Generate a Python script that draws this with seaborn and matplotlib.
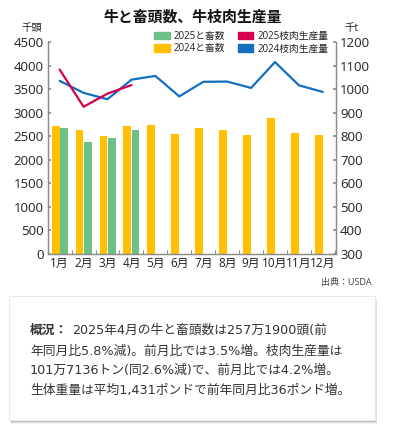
import pandas as pd
import matplotlib.pyplot as plt
import seaborn as sns
import numpy as np
from matplotlib.patches import Patch, FancyBboxPatch

# data
months = ['1月', '2月', '3月', '4月', '5月', '6月', '7月', '8月', '9月', '10月', '11月', '12月']
head_2024 = [2720, 2640, 2515, 2710, 2745, 2545, 2675, 2635, 2530, 2890, 2565, 2535]
head_2025 = [2665, 2375, 2460, 2625, np.nan, np.nan, np.nan, np.nan, np.nan, np.nan, np.nan, np.nan]
beef_2024 = [1035, 984, 957, 1040, 1056, 969, 1031, 1032, 1005, 1115, 1016, 988]
beef_2025 = [1083, 925, 981, 1017]

bar_df = pd.DataFrame({
    'month': months * 2,
    'year': ['2024'] * 12 + ['2025'] * 12,
    'head': head_2024 + head_2025,
})
line_df = pd.DataFrame({
    'pos': list(range(12)) + list(range(4)),
    'year': ['2024'] * 12 + ['2025'] * 4,
    'beef': beef_2024 + beef_2025,
})

sns.set_theme(style='white')
plt.rcParams['font.family'] = ['Open Sans', 'Noto Sans CJK JP', 'DejaVu Sans']

yellow = '#FFC000'
green = '#6CBF86'
red = '#D6004F'
blue = '#1170C0'
spine_col = '#8C8C8C'
txt_col = '#222222'

fig = plt.figure(figsize=(3.93, 4.33), dpi=100)
ax = fig.add_axes([0.1214, 0.4134, 0.7336, 0.4896])

sns.barplot(data=bar_df, x='month', y='head', hue='year', hue_order=['2024', '2025'],
            palette={'2024': yellow, '2025': green}, width=0.68, gap=0.03,
            saturation=1, linewidth=0, legend=False, ax=ax)
ax.set_ylim(0, 4500)
ax.set_yticks(range(0, 4501, 500))
ax.set_xlim(-0.45, 11.55)
ax.set_xlabel('')
ax.set_ylabel('')

ax2 = ax.twinx()
sns.lineplot(data=line_df, x='pos', y='beef', hue='year', hue_order=['2024', '2025'],
             palette={'2024': blue, '2025': red}, linewidth=1.6, sort=False,
             legend=False, ax=ax2)
ax2.set_ylim(300, 1200)
ax2.set_yticks(range(300, 1201, 100))
ax2.set_xlim(-0.45, 11.55)
ax2.set_xlabel('')
ax2.set_ylabel('')

for a in (ax, ax2):
    for s in ['left', 'right', 'bottom']:
        a.spines[s].set_color(spine_col)
        a.spines[s].set_linewidth(0.9)
    a.spines['top'].set_visible(False)

ax.set_xticks(range(12))
ax.set_xticklabels(months)
ax.set_xticks(np.arange(-0.5, 12, 1), minor=True)
ax.tick_params(axis='x', which='major', length=0, labelsize=8.5, labelcolor=txt_col, pad=2)
ax.tick_params(axis='x', which='minor', direction='in', length=3, color=spine_col, width=0.8, bottom=True)
ax.tick_params(axis='y', direction='in', length=2.5, color=spine_col, labelsize=9.5,
               labelcolor=txt_col, pad=3, left=True)
ax2.tick_params(axis='y', direction='in', length=2.5, color=spine_col, labelsize=9.5,
                labelcolor=txt_col, pad=3, right=True)

# legend
handles = [Patch(color=green, label='2025と畜数'), Patch(color=yellow, label='2024と畜数'),
           Patch(color=red, label='2025枝肉生産量'), Patch(color=blue, label='2024枝肉生産量')]
ax2.legend(handles=handles, ncol=2, loc='upper right', bbox_to_anchor=(0.99, 1.075),
           frameon=False, fontsize=7, handlelength=1.6, handleheight=0.75,
           handletextpad=0.4, columnspacing=1.3, labelspacing=0.15, borderpad=0,
           labelcolor=txt_col)

# titles and units
fig.text(0.49, 0.96, '牛と畜頭数、牛枝肉生産量', ha='center', va='center',
         fontsize=10.7, fontweight='bold', color='#111111')
fig.text(0.08, 0.935, '千頭', ha='center', va='center', fontsize=7.5, color=txt_col)
fig.text(0.895, 0.935, '千t', ha='center', va='center', fontsize=7.5, color=txt_col)
fig.text(0.945, 0.347, '出典：USDA', ha='right', va='center', fontsize=6.5, color='#444444')

# summary box with a soft shadow
for i, alpha in enumerate([0.05, 0.08, 0.12]):
    off = 3.5 - i
    fig.patches.append(FancyBboxPatch((9 / 393 + off * 0.6 / 393, 13 / 433 - off / 433),
                                      366 / 393, 124 / 433, boxstyle='square,pad=0',
                                      transform=fig.transFigure, facecolor='black',
                                      edgecolor='none', alpha=alpha, zorder=1))
fig.patches.append(FancyBboxPatch((9 / 393, 13 / 433), 366 / 393, 124 / 433,
                                  boxstyle='square,pad=0', transform=fig.transFigure,
                                  facecolor='white', edgecolor='#E6E6E6', linewidth=0.6, zorder=2))

body_col = '#333333'
body_font = ['DejaVu Sans', 'Noto Sans CJK JP']
fs = 9.2
fig.text(30 / 393, 1 - 330 / 433, '概況：', ha='left', va='center', fontsize=fs,
         fontweight='bold', color=body_col, family=['Noto Sans CJK JP'])
lines = ['2025年4月の牛と畜頭数は257万1900頭(前',
         '年同月比5.8%減)。前月比では3.5%増。枝肉生産量は',
         '101万7136トン(同2.6%減)で、前月比では4.2%増。',
         '生体重量は平均1,431ポンドで前年同月比36ポンド増。']
fig.text(72 / 393, 1 - 330 / 433, lines[0], ha='left', va='center', fontsize=fs,
         color=body_col, family=body_font)
for k, ln in enumerate(lines[1:]):
    fig.text(30 / 393, 1 - (351 + 19.8 * k) / 433, ln, ha='left', va='center',
             fontsize=fs, color=body_col, family=body_font)

fig.savefig('out.png', dpi=100, facecolor='white')
